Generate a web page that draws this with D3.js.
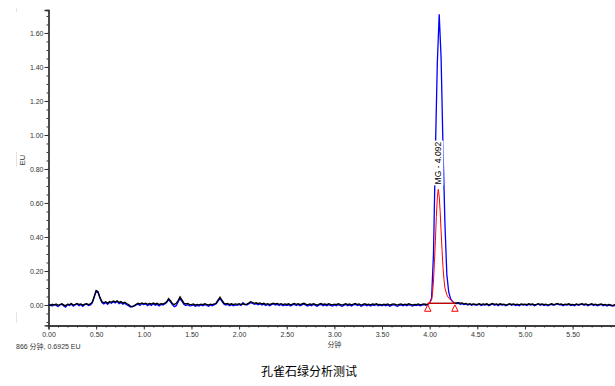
<!DOCTYPE html>
<html>
<head>
<meta charset="utf-8">
<script src="https://cdn.jsdelivr.net/npm/d3@7"></script>
<style>
  html, body { margin: 0; padding: 0; background: #fff; }
  svg { display: block; }
  .axis text { font-family: "Liberation Sans", Arial, sans-serif; font-size: 7px; fill: #333; }
  .axis path, .axis line { stroke: #333; }
</style>
</head>
<body>
<div id="chart"></div>
<script>
// trace values, EU, sampled every 0.02 min (one row = 0.5 min)
const blackTrace = [
  0.002, -0.003, 0.004, 0.000, 0.006, -0.002, 0.003, 0.007, 0.001, -0.004, 0.005, 0.002, 0.008, 0.000, 0.004, 0.009, 0.003, 0.006, -0.001, 0.005, 0.008, 0.002, 0.006, 0.018, 0.052,
  0.085, 0.078, 0.045, 0.020, 0.013, 0.019, 0.011, 0.021, 0.016, 0.023, 0.018, 0.025, 0.015, 0.020, 0.012, 0.016, 0.009, 0.003, -0.007, -0.011, -0.003, 0.004, 0.010, 0.006, 0.012,
  0.007, 0.011, 0.004, 0.009, 0.006, 0.012, 0.005, 0.010, 0.003, 0.008, 0.006, 0.011, 0.019, 0.038, 0.025, 0.008, 0.003, 0.010, 0.026, 0.048, 0.030, 0.012, 0.006, 0.009, 0.004,
  0.002, 0.006, -0.001, 0.004, 0.001, 0.005, 0.002, 0.007, 0.003, 0.000, 0.005, 0.002, 0.006, 0.012, 0.030, 0.046, 0.028, 0.012, 0.006, 0.009, 0.003, 0.007, 0.002, 0.006, 0.004,
  0.008, 0.003, 0.007, 0.002, 0.005, 0.011, 0.019, 0.015, 0.010, 0.013, 0.008, 0.012, 0.006, 0.010, 0.004, 0.008, 0.003, 0.007, 0.011, 0.006, 0.009, 0.004, 0.008, 0.002, 0.006,
  0.003, 0.007, 0.001, 0.005, 0.009, 0.004, 0.008, 0.002, 0.006, 0.010, 0.005, 0.001, 0.006, 0.003, 0.008, 0.004, 0.000, 0.005, 0.009, 0.003, 0.006, 0.002, 0.007, 0.004, 0.001,
  0.005, 0.002, 0.007, 0.003, -0.001, 0.004, 0.008, 0.002, 0.006, 0.001, 0.005, 0.009, 0.003, 0.006, 0.000, 0.004, 0.007, 0.002, 0.005, 0.001, 0.006, 0.003, 0.008, 0.002, 0.004,
  0.001, 0.005, 0.002, 0.006, 0.000, 0.004, 0.007, 0.003, -0.001, 0.003, 0.006, 0.001, 0.005, 0.002, 0.007, 0.003, 0.000, 0.004, 0.002, 0.006, 0.001, 0.004, 0.007, 0.003, 0.005,
  0.009, 0.010, 0.009, 0.010, 0.009, 0.010, 0.009, 0.010, 0.009, 0.010, 0.009, 0.010, 0.009, 0.010, 0.012, 0.014, 0.011, 0.012, 0.006, 0.009, 0.004, 0.008, 0.003, 0.007, 0.004,
  0.004, 0.008, 0.002, 0.006, 0.003, 0.007, 0.001, 0.005, 0.009, 0.004, 0.006, 0.002, 0.007, 0.003, 0.005, 0.000, 0.004, 0.008, 0.003, 0.006, 0.002, 0.005, 0.001, 0.006, 0.003,
  0.005, 0.002, 0.007, 0.003, 0.006, 0.001, 0.004, 0.008, 0.003, 0.006, 0.002, 0.005, 0.000, 0.004, 0.007, 0.002, 0.005, 0.009, 0.004, 0.006, 0.001, 0.005, 0.003, 0.007, 0.002,
  0.004, 0.001, 0.006, 0.002, 0.005, 0.008, 0.003, 0.006, 0.001, 0.004, 0.007, 0.002, 0.005, 0.000, 0.003, 0.006, 0.001, 0.004, -0.001, 0.003, 0.000, -0.003, 0.002, -0.002, 0.001
];

const blueTrace = [
  -0.004, 0.001, -0.006, 0.003, -0.002, -0.009, 0.000, 0.004, -0.005, -0.012, 0.002, -0.003, 0.005, -0.007, 0.001, 0.006, -0.004, 0.002, -0.008, 0.003, 0.005, -0.003, 0.001, 0.012, 0.045,
  0.080, 0.072, 0.040, 0.014, 0.006, 0.015, 0.004, 0.016, 0.010, 0.019, 0.012, 0.021, 0.008, 0.014, 0.005, 0.011, 0.002, -0.004, -0.012, -0.008, -0.006, 0.000, 0.005, -0.003, 0.008,
  0.002, 0.006, -0.004, 0.005, -0.002, 0.008, -0.001, 0.004, -0.006, 0.003, 0.000, 0.006, 0.014, 0.032, 0.018, 0.002, -0.010, -0.004, 0.018, 0.038, 0.022, 0.004, -0.003, 0.002, -0.005,
  -0.004, 0.000, -0.008, -0.002, -0.006, 0.000, -0.005, 0.002, -0.003, -0.007, 0.000, -0.004, 0.002, 0.008, 0.024, 0.038, 0.022, 0.006, 0.000, 0.004, -0.004, 0.002, -0.005, 0.001, -0.002,
  0.003, -0.003, 0.014, 0.004, 0.000, 0.006, 0.014, 0.010, 0.004, 0.008, 0.002, 0.007, 0.000, 0.005, -0.003, 0.003, -0.004, 0.002, 0.006, 0.000, 0.004, -0.003, 0.003, -0.005, 0.001,
  -0.003, 0.002, -0.006, 0.000, 0.004, -0.003, 0.003, -0.005, 0.001, 0.006, -0.001, -0.006, 0.001, -0.004, 0.003, -0.002, -0.007, 0.000, 0.004, -0.004, 0.001, -0.005, 0.002, -0.002, -0.006,
  0.000, -0.005, 0.002, -0.003, -0.008, -0.002, 0.003, -0.004, 0.001, -0.006, 0.000, 0.004, -0.003, 0.001, -0.007, -0.002, 0.002, -0.004, 0.000, -0.006, 0.001, -0.003, 0.003, -0.004, -0.001,
  -0.005, 0.000, -0.004, 0.001, -0.007, -0.002, 0.002, -0.003, -0.008, -0.003, 0.001, -0.005, 0.000, -0.004, 0.002, -0.003, -0.006, -0.001, -0.004, 0.001, -0.005, -0.001, 0.002, -0.002, 0.004,
  0.012, 0.040, 0.300, 0.900, 1.420, 1.710, 1.450, 0.920, 0.480, 0.180, 0.075, 0.036, 0.020, 0.012, 0.008, 0.010, 0.004, 0.008, 0.002, 0.006, 0.000, 0.005, -0.002, 0.004, 0.000,
  0.000, 0.005, -0.003, 0.002, -0.001, 0.004, -0.004, 0.001, 0.006, -0.002, 0.003, -0.004, 0.004, -0.001, 0.002, -0.005, 0.000, 0.005, -0.002, 0.003, -0.003, 0.001, -0.004, 0.003, -0.001,
  0.002, -0.003, 0.004, -0.001, 0.003, -0.004, 0.000, 0.006, -0.001, 0.003, -0.003, 0.002, -0.005, 0.000, 0.004, -0.002, 0.002, 0.007, 0.001, 0.003, -0.004, 0.002, -0.001, 0.004, -0.003,
  0.000, -0.004, 0.003, -0.002, 0.002, 0.005, -0.001, 0.003, -0.004, 0.000, 0.004, -0.003, 0.002, -0.005, -0.001, 0.003, -0.004, 0.000, -0.006, -0.001, -0.004, -0.007, -0.002, -0.006, -0.003
];

// integrated MG peak (red)
const redTimes = [3.98, 4.00, 4.02, 4.03, 4.04, 4.05, 4.06, 4.07, 4.08, 4.09, 4.10, 4.11, 4.12, 4.13, 4.14, 4.15, 4.16, 4.18, 4.20, 4.22, 4.24, 4.265];
const redPeak  = [0.010, 0.014, 0.030, 0.070, 0.140, 0.250, 0.380, 0.520, 0.630, 0.680, 0.640, 0.550, 0.430, 0.320, 0.220, 0.150, 0.100, 0.060, 0.040, 0.030, 0.020, 0.010];
const peakStart = [3.98, 0.010];
const peakEnd = [4.265, 0.010];
const peakLabel = "MG - 4.092";

const yTicks = [0, 0.2, 0.4, 0.6, 0.8, 1.0, 1.2, 1.4, 1.6];
const xTicks = [0, 0.5, 1.0, 1.5, 2.0, 2.5, 3.0, 3.5, 4.0, 4.5, 5.0, 5.5];

const sampleStep = 0.02;

const width = 615;
const height = 386;

const svg = d3.select("#chart")
    .append("svg")
    .attr("width", width)
    .attr("height", height);

const xScale = d3.scaleLinear()
    .domain([0, 5.95])
    .range([48.5, 615.5]);

const yScale = d3.scaleLinear()
    .domain([-0.12, 1.735])
    .range([325.4, 10]);

svg.append("defs").append("clipPath")
    .attr("id", "plot-clip")
    .append("rect")
    .attr("x", 48.5)
    .attr("y", 0)
    .attr("width", width - 48.5)
    .attr("height", 325);

// faint left frame pieces
[[8, 12], [152, 167], [312, 323]].forEach(s => {
    svg.append("line")
        .attr("x1", 16.5).attr("x2", 16.5)
        .attr("y1", s[0]).attr("y2", s[1])
        .attr("stroke", "#e4e4e4");
});

// axes
const yAxis = d3.axisLeft(yScale).tickValues(yTicks).tickSize(4).tickPadding(1).tickFormat(d3.format(".2f"));
const yMinor = d3.axisLeft(yScale).tickValues(d3.range(-0.1, 1.72, 0.05)).tickSize(2).tickFormat("");
const xAxis = d3.axisBottom(xScale).tickValues(xTicks).tickSize(4).tickPadding(3).tickFormat(d3.format(".2f"));
const xMinor = d3.axisBottom(xScale).tickValues(d3.range(0, 5.95, 0.1)).tickSize(2).tickFormat("");

svg.append("g").attr("class", "axis").attr("transform", "translate(48.5,0)").call(yMinor);
svg.append("g").attr("class", "axis").attr("transform", "translate(48.5,0)").call(yAxis);
svg.append("g").attr("class", "axis").attr("transform", "translate(0,325.5)").call(xMinor);
svg.append("g").attr("class", "axis").attr("transform", "translate(0,325.5)").call(xAxis);
svg.selectAll(".axis .domain").attr("stroke-width", 1.3);

// traces
const line = d3.line()
    .x(d => xScale(d[0]))
    .y(d => yScale(d[1]));

const toPoints = values => values.map((v, i) => [i * sampleStep, v]);

const plot = svg.append("g").attr("clip-path", "url(#plot-clip)");

plot.append("path")
    .datum(toPoints(blueTrace))
    .attr("fill", "none")
    .attr("stroke", "#0000ff")
    .attr("stroke-width", 1.3)
    .attr("d", line);

plot.append("path")
    .datum(toPoints(blackTrace))
    .attr("fill", "none")
    .attr("stroke", "#000")
    .attr("stroke-width", 1.3)
    .attr("d", line);

// peak baseline and integration
plot.append("path")
    .datum([peakStart, peakEnd])
    .attr("fill", "none")
    .attr("stroke", "#ff0000")
    .attr("stroke-width", 1)
    .attr("d", line);

plot.append("path")
    .datum(redTimes.map((t, i) => [t, redPeak[i]]))
    .attr("fill", "none")
    .attr("stroke", "#ff0000")
    .attr("stroke-width", 1)
    .attr("d", line);

plot.selectAll(".marker")
    .data([peakStart, peakEnd])
    .enter()
    .append("path")
    .attr("class", "marker")
    .attr("transform", d => `translate(${xScale(d[0])},${yScale(d[1]) + 5})`)
    .attr("d", "M0,-3.5L3.2,3L-3.2,3Z")
    .attr("fill", "#fff")
    .attr("stroke", "#ff0000")
    .attr("stroke-width", 1);

// peak label
const labelX = xScale(4.092);
const labelY = yScale(0.68) - 5;
const label = svg.append("g")
    .attr("transform", `translate(${labelX},${labelY}) rotate(-90)`);
const labelText = label.append("text")
    .attr("x", 0)
    .attr("y", 3)
    .attr("font-family", "Liberation Sans, Arial, sans-serif")
    .attr("font-size", 8.5)
    .attr("fill", "#000")
    .text(peakLabel);
const bb = labelText.node().getBBox();
label.insert("rect", "text")
    .attr("x", bb.x - 1)
    .attr("y", bb.y)
    .attr("width", bb.width + 2)
    .attr("height", bb.height)
    .attr("fill", "#fff");

// axis titles
svg.append("text")
    .attr("transform", "translate(25,160) rotate(-90)")
    .attr("text-anchor", "middle")
    .attr("font-family", "Liberation Sans, Arial, sans-serif")
    .attr("font-size", 7.5)
    .attr("fill", "#333")
    .text("EU");

svg.append("text")
    .attr("x", xScale(3.0))
    .attr("y", 347)
    .attr("text-anchor", "middle")
    .attr("font-family", "Noto Sans CJK SC, sans-serif")
    .attr("font-size", 7)
    .attr("fill", "#333")
    .text("分钟");

svg.append("text")
    .attr("x", 16)
    .attr("y", 349)
    .attr("font-family", "Liberation Sans, Noto Sans CJK SC, sans-serif")
    .attr("font-size", 7)
    .attr("fill", "#333")
    .text("866 分钟, 0.6925 EU");

svg.append("text")
    .attr("x", 309)
    .attr("y", 376)
    .attr("text-anchor", "middle")
    .attr("font-family", "Noto Sans CJK SC, sans-serif")
    .attr("font-size", 12)
    .attr("fill", "#000")
    .text("孔雀石绿分析测试");
</script>
</body>
</html>
